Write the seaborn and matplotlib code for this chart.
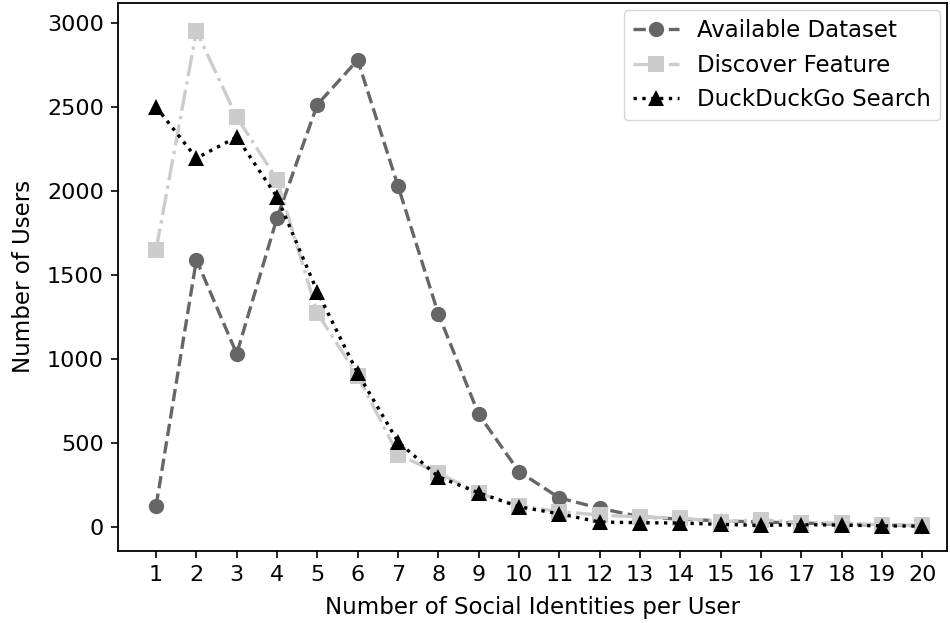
import matplotlib
matplotlib.use("Agg")
import matplotlib.pyplot as plt
import pandas as pd
import seaborn as sns

identities = list(range(1, 21))
available_dataset = [125, 1590, 1030, 1840, 2515, 2780, 2030, 1268, 670, 328,
                     172, 110, 60, 45, 35, 28, 22, 15, 10, 6]
discover_feature = [1650, 2952, 2440, 2068, 1272, 898, 430, 320, 200, 125,
                    90, 70, 58, 52, 30, 42, 25, 22, 12, 8]
duckduckgo_search = [2500, 2196, 2321, 1964, 1400, 915, 506, 298, 202, 119,
                     77, 28, 24, 22, 14, 8, 12, 10, 5, 4]

series = [
    ("Available Dataset", available_dataset, "#666666", "--", "o"),
    ("Discover Feature", discover_feature, "#cccccc", "-.", "s"),
    ("DuckDuckGo Search", duckduckgo_search, "black", ":", "^"),
]

sns.set_style("ticks")
plt.rcParams["font.family"] = ["DejaVu Sans"]
plt.rcParams["text.color"] = "black"
plt.rcParams["axes.labelcolor"] = "black"
plt.rcParams["xtick.color"] = "black"
plt.rcParams["ytick.color"] = "black"

fig = plt.figure(figsize=(9.5, 6.23), dpi=100)
ax = fig.add_axes([0.124, 0.116, 0.873, 0.879])

for name, vals, color, ls, mk in series:
    df = pd.DataFrame({"x": identities, "y": vals})
    sns.lineplot(data=df, x="x", y="y", ax=ax, color=color, linestyle=ls,
                 marker=mk, markersize=11, markeredgewidth=0, linewidth=2.4,
                 label=name)

ax.set_xticks(identities)
ax.set_xlim(0.05, 20.62)
ax.set_ylim(-143, 3119)
ax.set_yticks([0, 500, 1000, 1500, 2000, 2500, 3000])
ax.tick_params(labelsize=16, direction="out", length=5, width=1.2, pad=5)
ax.set_xlabel("Number of Social Identities per User", fontsize=16.5, labelpad=8)
ax.set_ylabel("Number of Users", fontsize=16.5, labelpad=9)
for sp in ax.spines.values():
    sp.set_visible(True)
    sp.set_linewidth(1.3)
    sp.set_color("black")

ax.legend(loc="upper right", fontsize=16.5, frameon=True, handlelength=2.0,
          borderaxespad=0.3)

fig.savefig("out.png", dpi=100)
